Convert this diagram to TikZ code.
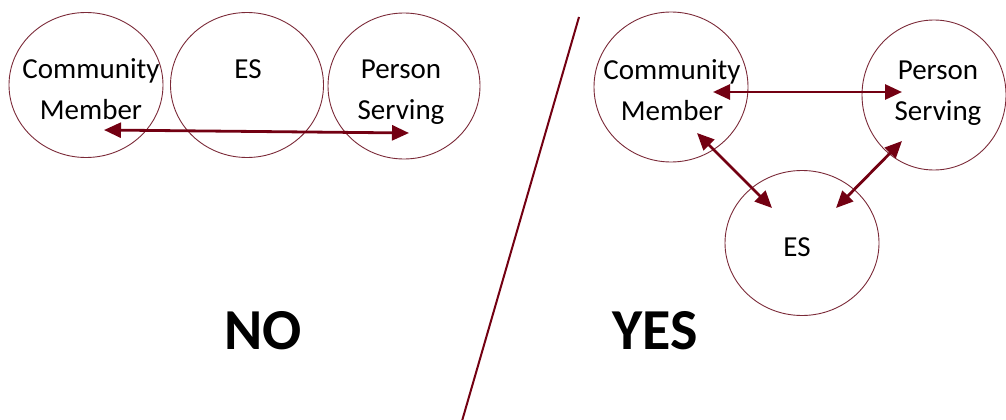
\documentclass[tikz,border=0pt]{standalone}
\usepackage{fontspec}
\setmainfont{Carlito}
\usetikzlibrary{arrows.meta,shapes.geometric}
\definecolor{maroon}{HTML}{730012}
\definecolor{ringred}{HTML}{7B2A38}

\begin{document}
\begin{tikzpicture}[x=1pt, y=-1pt,
	bubble/.style={ellipse, draw=ringred, line width=0.9pt, inner sep=0pt},
	word/.style={font=\fontsize{29}{41}\selectfont, align=center, anchor=base, inner sep=0pt},
	verdict/.style={font=\fontsize{58}{60}\selectfont\bfseries, anchor=base, inner sep=0pt},
	link/.style={maroon, line width=2.8pt, {Triangle[length=17pt,width=15pt]}-{Triangle[length=17pt,width=15pt]}}]
	\useasboundingbox (0,0) rectangle (1006,420);
	
	% the wrong way: all in a row
	\node[bubble, minimum width=154pt, minimum height=145pt] (cmNo) at (86,85) {};
	\node[bubble, minimum width=153pt, minimum height=145pt] (esNo) at (247,85) {};
	\node[bubble, minimum width=152pt, minimum height=146pt] (psNo) at (404,86) {};
	
	\node[word] (cmNoText) at (91,119) {Community\\Member};
	\node[word] (esNoText) at (248,78) {ES};
	\node[word] (psNoText) at (401,119) {Person\\Serving};
	
	\coordinate (cmNoEnd) at (104,130);
	\coordinate (psNoEnd) at (409,133);
	\draw[link] (cmNoEnd) -- (psNoEnd);
	
	\node[verdict] (no) at (263,349) {NO};
	
	% divider
	\coordinate (slashTop) at (579,17);
	\coordinate (slashBot) at (462,421);
	\draw[maroon, line width=2pt] (slashTop) -- (slashBot);
	
	% the right way: a triangle
	\node[bubble, minimum width=154pt, minimum height=150pt] (cmYes) at (671,87) {};
	\node[bubble, minimum width=144pt, minimum height=150pt] (psYes) at (934,95) {};
	\node[bubble, minimum width=154pt, minimum height=145pt] (esYes) at (802,243) {};
	
	\node[word] (cmYesText) at (672,120) {Community\\Member};
	\node[word] (psYesText) at (938,120) {Person\\Serving};
	\node[word] (esYesText) at (797,256) {ES};
	
	\coordinate (cmYesRight) at (713,92);
	\coordinate (psYesLeft) at (902,92);
	\coordinate (cmYesLow) at (697,133);
	\coordinate (psYesLow) at (902,141);
	\coordinate (esYesLeft) at (772,208);
	\coordinate (esYesRight) at (836,208);
	\draw[link] (cmYesRight) -- (psYesLeft);
	\draw[link] (cmYesLow) -- (esYesLeft);
	\draw[link] (psYesLow) -- (esYesRight);
	
	\node[verdict] (yes) at (655,349) {YES};
	
\end{tikzpicture}
\end{document}
